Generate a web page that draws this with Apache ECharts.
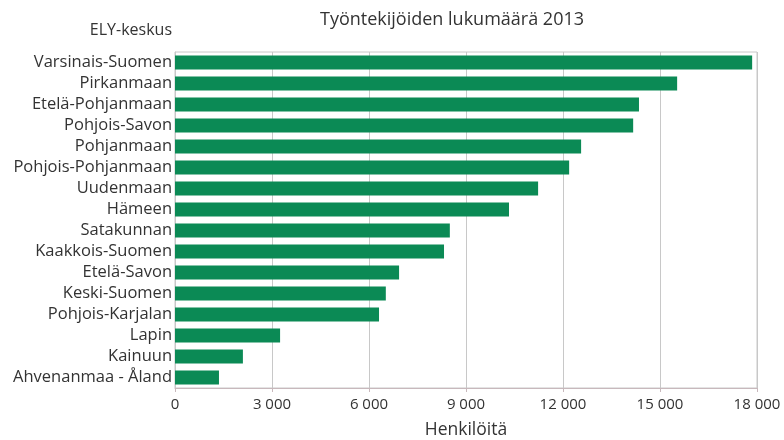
<!DOCTYPE html>
<html><head><meta charset="utf-8">
<script src="https://cdn.jsdelivr.net/npm/echarts@6/dist/echarts.min.js"></script>
<style>html,body{margin:0;padding:0;background:#fff}#c{width:784px;height:440px}</style>
</head><body><div id="c"></div>
<script>
var categories = ["Varsinais-Suomen","Pirkanmaan","Etelä-Pohjanmaan","Pohjois-Savon","Pohjanmaan","Pohjois-Pohjanmaan","Uudenmaan","Hämeen","Satakunnan","Kaakkois-Suomen","Etelä-Savon","Keski-Suomen","Pohjois-Karjalan","Lapin","Kainuun","Ahvenanmaa - Åland"];
var values = [17850,15530,14350,14170,12560,12190,11230,10330,8500,8320,6930,6520,6310,3250,2100,1360];
var xTicks = [0,3000,6000,9000,12000,15000,18000];
var title = "Työntekijöiden lukumäärä 2013";
var yName = "ELY-keskus";
var xName = "Henkilöitä";

var font = "'Open Sans', 'Noto Sans', sans-serif";
var chart = echarts.init(document.getElementById('c'));
chart.setOption({
  animation: false,
  title: {text: title, left: 447, top: 6, textAlign: 'center',
    textStyle: {fontFamily: font, fontSize: 18, fontWeight: 'normal', color: '#333'}},
  grid: {left: 175, right: 27, top: 52, bottom: 52, show: true, borderColor: '#c8c8c8', borderWidth: 1,
    outerBoundsMode: 'none', containLabel: false},
  xAxis: {type: 'value', min: 0, max: 18000, interval: 3000,
    name: xName, nameLocation: 'middle', nameGap: 33,
    nameTextStyle: {fontFamily: font, fontSize: 17.5, color: '#333'},
    axisLine: {show: true, lineStyle: {color: '#c8b8bc'}},
    axisTick: {show: true, length: 4, lineStyle: {color: '#c8b8bc'}},
    splitLine: {show: true, lineStyle: {color: '#c8c8c8'}},
    axisLabel: {fontFamily: font, fontSize: 15, color: '#333', margin: 9,
      formatter: function(v){ return String(v).replace(/\B(?=(\d{3})+(?!\d))/g, ' '); }}
  },
  yAxis: {type: 'category', data: categories, inverse: true,
    axisLine: {show: true, lineStyle: {color: '#c8c8c8'}},
    axisTick: {show: false},
    axisLabel: {interval: 0, hideOverlap: false, fontFamily: font, fontSize: 16.5, color: '#333', margin: 3}
  },
  graphic: [{type: 'text', right: 612, top: 22,
    style: {text: yName, font: "16px " + font, fill: '#333', textAlign: 'right'}}],
  series: [{type: 'bar', data: values, barWidth: 14,
    itemStyle: {color: '#0b8a55'}}]
});
</script></body></html>
